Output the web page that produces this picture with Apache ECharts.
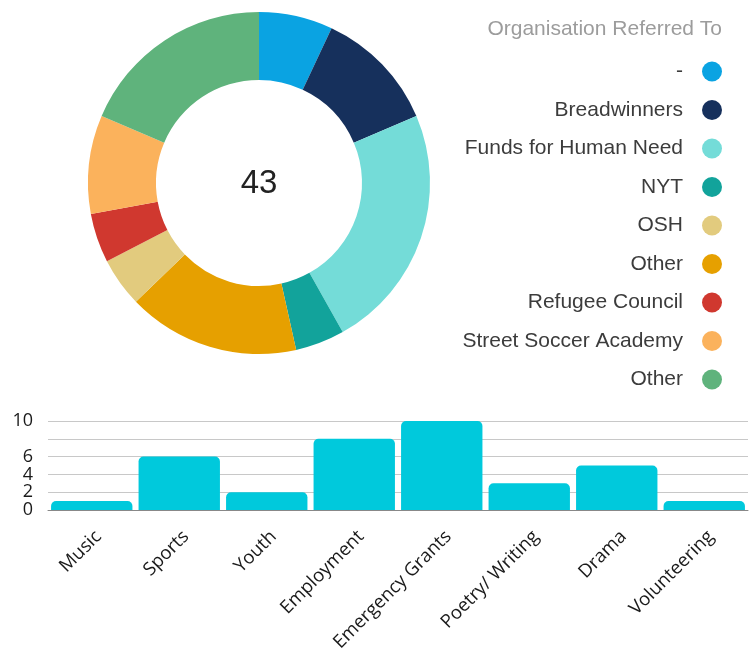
<!DOCTYPE html>
<html>
<head>
<meta charset="utf-8">
<script src="https://cdn.jsdelivr.net/npm/echarts@6/dist/echarts.min.js"></script>
<style>html,body{margin:0;padding:0;background:#fff}#c{width:755px;height:657px}</style>
</head>
<body>
<div id="c"></div>
<script>
// Donut data (legend order)
const orgNames = ['-', 'Breadwinners', 'Funds for Human Need', 'NYT', 'OSH', 'Other', 'Refugee Council', 'Street Soccer Academy', 'Other'];
const orgValues = [3, 5, 10, 2, 2, 7, 2, 4, 8];
const orgColors = ['#0aa3e2', '#16305c', '#74dcd8', '#12a39b', '#e2cb7e', '#e6a000', '#d0382f', '#fbb25c', '#5fb37c'];
// order in which slices run clockwise from the top
const sliceOrder = [0, 1, 2, 3, 5, 4, 6, 7, 8];

// Bar data
const barCategories = ['Music', 'Sports', 'Youth', 'Employment', 'Emergency Grants', 'Poetry/ Writing', 'Drama', 'Volunteering'];
const barValues = [1, 6, 2, 8, 10, 3, 5, 1];
const yTickLabels = ['0', '2', '4', '6', '', '10'];

// unique internal names (duplicate "Other"), stripped in legend display
const ZW = '\u200b';
const uniqName = i => orgNames[i] + ZW.repeat(i);
const pieData = sliceOrder.map(i => ({
  name: uniqName(i),
  value: orgValues[i],
  itemStyle: { color: orgColors[i] }
}));
const total = orgValues.reduce((a, b) => a + b, 0);

const chart = echarts.init(document.getElementById('c'));
chart.setOption({
  animation: false,
  title: [{
    text: 'Organisation Referred To',
    right: 33, top: 19, padding: 0,
    textStyle: { fontFamily: 'Liberation Sans', fontSize: 21, fontWeight: 'normal', color: '#9c9c9c' }
  }],
  graphic: [{
    type: 'text', x: 259, y: 184,
    style: { text: String(total), textAlign: 'center', textVerticalAlign: 'middle',
      fontFamily: 'Liberation Sans', fontSize: 33, fill: '#222' }
  }],
  legend: {
    orient: 'vertical', right: 33, top: 61, padding: 0,
    align: 'right', icon: 'circle',
    itemWidth: 48, itemHeight: 20, itemGap: 17.5,
    selectedMode: false,
    formatter: n => n.replace(/\u200b/g, ''),
    textStyle: { fontFamily: 'Liberation Sans', fontSize: 21, color: '#3c3c3c' },
    data: orgNames.map((n, i) => uniqName(i))
  },
  grid: { left: 48, right: 7, top: 421, bottom: 147 },
  xAxis: {
    type: 'category', data: barCategories,
    axisLine: { show: true, lineStyle: { color: '#888', width: 1 } },
    axisTick: { show: false },
    axisLabel: { rotate: 45, interval: 0, margin: 17, verticalAlign: 'top',
      fontFamily: 'Open Sans', fontSize: 18.5, color: '#1a1a1a' }
  },
  yAxis: {
    type: 'value', min: 0, max: 10, interval: 2,
    axisLine: { show: false }, axisTick: { show: false },
    splitLine: { lineStyle: { color: '#c8c8c8', width: 1 } },
    axisLabel: { margin: 15, fontFamily: 'Open Sans', fontSize: 18, color: '#1a1a1a',
      formatter: v => yTickLabels[Math.round(v / 2)] }
  },
  series: [{
    type: 'pie',
    center: [259, 183],
    radius: [103, 171],
    startAngle: 90,
    clockwise: true,
    label: { show: false }, labelLine: { show: false },
    emphasis: { disabled: true },
    itemStyle: { borderWidth: 0 },
    data: pieData
  }, {
    type: 'bar',
    data: barValues,
    barCategoryGap: '7%',
    itemStyle: { color: '#00c9dc', borderRadius: [5, 5, 0, 0] }
  }]
});
</script>
</body>
</html>
